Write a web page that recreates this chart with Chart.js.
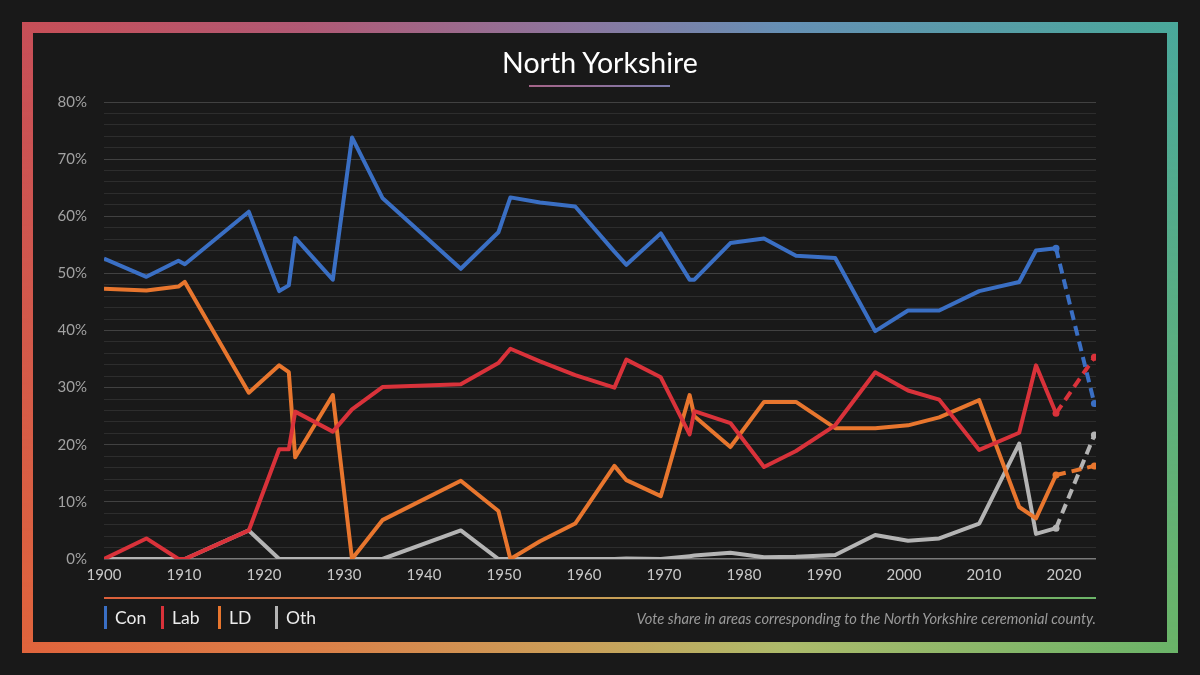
<!DOCTYPE html>
<html>
<head>
<meta charset="utf-8">
<script src="https://cdn.jsdelivr.net/npm/chart.js@4"></script>
<style>
  body { margin: 0; background: #191919; }
  #wrap { position: relative; width: 1200px; height: 675px; overflow: hidden; background: #191919; font-family: Lato, "Open Sans", sans-serif; }
  .frame, .frame-b { position: absolute; left: 22px; top: 22px; width: 1156px; height: 631px; }
  .frame { background: linear-gradient(to right, #c84f58 0%, #b05a76 25%, #8c76a0 48%, #6590b6 66%, #4aa99b 100%); }
  .frame-b {
    background: linear-gradient(to right, #e0643c 0%, #dc8048 25%, #cba058 48%, #aebb6a 66%, #6ab468 100%);
    -webkit-mask-image: linear-gradient(to bottom, transparent 0%, #000 100%);
    mask-image: linear-gradient(to bottom, transparent 0%, #000 100%);
  }
  .inner { position: absolute; left: 33px; top: 33px; width: 1134px; height: 609px; background: #191919; }
  canvas { position: absolute; left: 0; top: 0; }
  .title { position: absolute; left: 0; width: 1200px; top: 44px; text-align: center; color: #fff; font-size: 28.5px; line-height: 36px; }
  .uline { position: absolute; left: 529px; top: 85px; width: 141px; height: 2px; background: linear-gradient(to right, #a56488, #7a7aaa); }
  .rule { position: absolute; left: 104px; top: 597px; width: 992px; height: 1.5px; background: linear-gradient(to right, #dc5f3a, #d48a4c 35%, #c0aa5c 60%, #6ab468); }
  .leg { position: absolute; top: 606px; height: 23px; color: #ececec; font-size: 17.5px; line-height: 23px; padding-left: 11px; }
  .leg i { position: absolute; left: 0; top: 0; width: 3px; height: 23px; }
  .note { position: absolute; right: 104px; top: 607px; color: #9a9a9a; font-size: 14.7px; font-style: italic; line-height: 22px; }
</style>
</head>
<body>
<div id="wrap">
  <div class="frame"></div>
  <div class="frame-b"></div>
  <div class="inner"></div>
  <canvas id="c" width="1200" height="675"></canvas>
  <div class="title">North Yorkshire</div>
  <div class="uline"></div>
  <div class="rule"></div>
  <div id="legend"></div>
  <div class="note">Vote share in areas corresponding to the North Yorkshire ceremonial county.</div>
</div>
<script>
// election dates as placed on the chart
const years = [1900, 1905.3, 1909.3, 1910.1, 1918.1, 1921.9, 1923.1, 1923.9, 1928.6, 1931, 1934.8,
  1944.6, 1949.3, 1950.8, 1954.5, 1958.9, 1963.8, 1965.3, 1969.6, 1973.2, 1973.8, 1978.3, 1982.5,
  1986.5, 1991.4, 1996.4, 2000.5, 2004.4, 2009.4, 2014.4, 2016.5, 2019, 2023.8];

const con = [52.6, 49.4, 52.2, 51.6, 60.8, 46.9, 47.9, 56.2, 48.9, 73.8, 63.2,
  50.8, 57.2, 63.3, 62.4, 61.7, 53.8, 51.5, 57.0, 48.9, 48.9, 55.3, 56.1,
  53.1, 52.7, 39.9, 43.5, 43.5, 46.9, 48.5, 54.0, 54.4, 27.2];
const lab = [0, 3.6, 0, 0, 5.0, 19.2, 19.2, 25.8, 22.3, 26.2, 30.1,
  30.6, 34.3, 36.8, 34.6, 32.2, 30.0, 34.9, 31.8, 21.8, 25.9, 23.8, 16.1,
  18.9, 23.4, 32.7, 29.5, 27.9, 19.1, 22.1, 33.9, 25.5, 35.3];
const ld = [47.3, 47.0, 47.7, 48.5, 29.1, 33.9, 32.7, 17.8, 28.7, 0, 6.8,
  13.7, 8.4, 0, 3.1, 6.2, 16.3, 13.8, 11.0, 28.7, 25.0, 19.6, 27.5,
  27.5, 22.9, 22.9, 23.4, 24.8, 27.8, 9.1, 7.1, 14.7, 16.3];
const oth = [0, 0, 0, 0, 5.0, 0, 0, 0, 0, 0, 0,
  5.0, 0, 0, 0, 0, 0, 0.1, 0, 0.5, 0.6, 1.1, 0.3,
  0.4, 0.7, 4.2, 3.2, 3.6, 6.2, 20.2, 4.4, 5.4, 21.7];

const parties = ['Con', 'Lab', 'LD', 'Oth'];
const colors = ['#3a6fc4', '#d9323a', '#e8762e', '#b4b4b4'];
const shares = [con, lab, ld, oth];

const yTickLabels = ['0%', '10%', '20%', '30%', '40%', '50%', '60%', '70%', '80%'];
const legendX = [104, 161, 218, 275];

const FONT = 'Lato, "Open Sans", sans-serif';
const last = years.length - 1;

// legend
const legendEl = document.getElementById('legend');
parties.forEach((p, i) => {
  const d = document.createElement('div');
  d.className = 'leg';
  d.style.left = legendX[i] + 'px';
  d.innerHTML = '<i style="background:' + colors[i] + '"></i>' + p;
  legendEl.appendChild(d);
});

const datasets = parties.map((p, i) => ({
  label: p,
  data: years.map((y, j) => ({ x: y, y: shares[i][j] })),
  borderColor: colors[i],
  backgroundColor: colors[i],
  borderWidth: 4,
  borderJoinStyle: 'round',
  tension: 0,
  pointRadius: ctx => (ctx.dataIndex >= last - 1 ? 3.5 : 0),
  pointBorderWidth: 0,
  segment: {
    borderDash: ctx => (ctx.p1DataIndex === last ? [10, 6] : undefined),
  },
}));

new Chart(document.getElementById('c').getContext('2d'), {
  type: 'line',
  data: { datasets },
  options: {
    responsive: false,
    animation: false,
    devicePixelRatio: 1,
    layout: { padding: { left: 44, right: 104, top: 102, bottom: 86 } },
    plugins: { legend: { display: false }, tooltip: { enabled: false } },
    scales: {
      x: {
        type: 'linear',
        min: 1900,
        max: 2024,
        ticks: {
          stepSize: 10,
          includeBounds: false,
          color: '#c8c8c8',
          font: { family: FONT, size: 15 },
          padding: 7,
          callback: v => String(v),
        },
        grid: { display: false, drawTicks: false },
        border: { display: false },
        afterFit: s => { s.height = 30; },
      },
      y: {
        min: 0,
        max: 80,
        ticks: {
          stepSize: 2,
          autoSkip: false,
          color: '#a2a2a2',
          font: { family: FONT, size: 15 },
          padding: 17,
          callback: v => (v % 10 === 0 ? yTickLabels[v / 10] : ''),
        },
        grid: {
          drawTicks: false,
          color: ctx => {
            const v = ctx.tick.value;
            if (v === 0) return '#7a7a7a';
            return v % 10 === 0 ? '#414141' : '#2d2d2d';
          },
          lineWidth: ctx => (ctx.tick.value === 0 ? 1.5 : 1),
        },
        border: { display: false },
        afterFit: s => { s.width = 60; },
      },
    },
  },
});
</script>
</body>
</html>
